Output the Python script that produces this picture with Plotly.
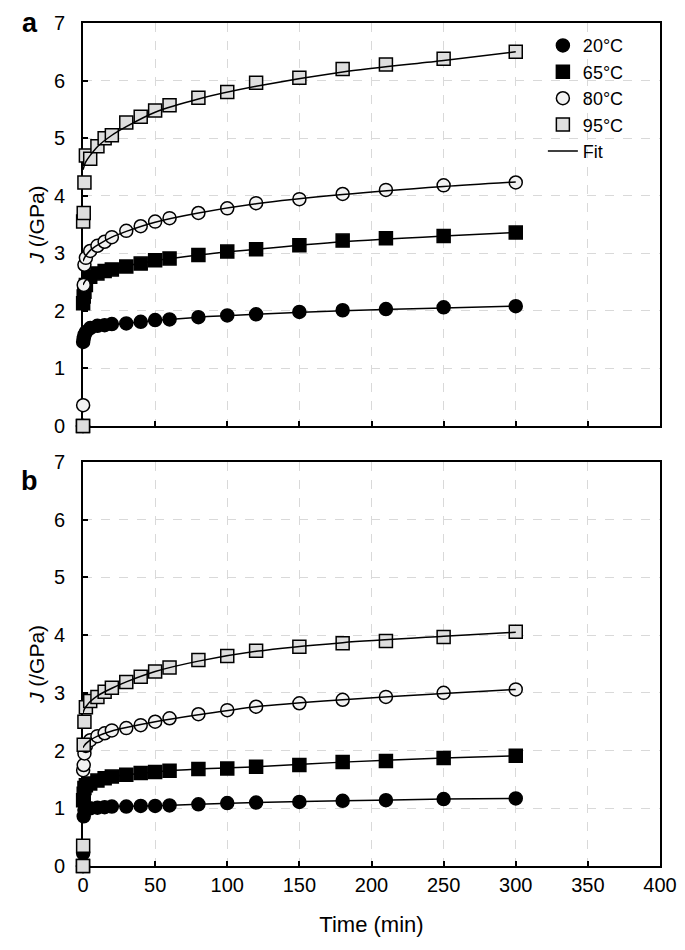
import plotly.graph_objects as go

# Time points (min)
time = [0, 0.1, 0.5, 1, 2, 5, 10, 15, 20, 30, 40, 50, 60, 80, 100, 120, 150, 180, 210, 250, 300]

# Panel a: measured compliance J (/GPa)
a_20 = [0, 1.46, 1.52, 1.58, 1.63, 1.70, 1.74, 1.75, 1.77, 1.78, 1.81, 1.84, 1.85, 1.89, 1.92, 1.94, 1.98, 2.01, 2.03, 2.06, 2.08]
a_65 = [0, 2.13, 2.25, 2.33, 2.45, 2.59, 2.65, 2.69, 2.72, 2.77, 2.82, 2.88, 2.91, 2.97, 3.03, 3.07, 3.14, 3.22, 3.26, 3.30, 3.36]
a_80 = [0, 0.36, 2.45, 2.80, 2.92, 3.04, 3.13, 3.20, 3.28, 3.39, 3.47, 3.55, 3.61, 3.70, 3.78, 3.87, 3.94, 4.03, 4.10, 4.18, 4.23]
a_95 = [0, 3.55, 3.70, 4.23, 4.70, 4.64, 4.86, 5.00, 5.05, 5.27, 5.37, 5.48, 5.57, 5.70, 5.80, 5.96, 6.05, 6.20, 6.28, 6.38, 6.50]

# Panel b
b_20 = [0, 0.22, 0.86, 0.97, 1.00, 1.00, 1.01, 1.02, 1.03, 1.03, 1.04, 1.04, 1.05, 1.07, 1.09, 1.10, 1.11, 1.13, 1.14, 1.16, 1.17]
b_65 = [0, 1.14, 1.25, 1.35, 1.40, 1.43, 1.48, 1.52, 1.55, 1.58, 1.61, 1.63, 1.65, 1.68, 1.69, 1.72, 1.75, 1.80, 1.82, 1.87, 1.91]
b_80 = [0, 1.66, 1.75, 1.95, 2.08, 2.18, 2.25, 2.30, 2.35, 2.39, 2.44, 2.50, 2.56, 2.63, 2.70, 2.76, 2.82, 2.88, 2.93, 3.00, 3.06]
b_95 = [0, 0.35, 2.10, 2.50, 2.75, 2.86, 2.93, 3.02, 3.09, 3.19, 3.28, 3.37, 3.44, 3.57, 3.64, 3.73, 3.80, 3.86, 3.90, 3.97, 4.06]

# Fit curves
fit_time = [0, 1, 2, 5, 10, 20, 30, 50, 80, 120, 180, 250, 300]
fa_20 = [1.55, 1.60, 1.63, 1.69, 1.72, 1.76, 1.78, 1.83, 1.89, 1.94, 2.00, 2.05, 2.08]
fa_65 = [2.45, 2.50, 2.53, 2.58, 2.65, 2.72, 2.78, 2.87, 2.97, 3.07, 3.20, 3.30, 3.36]
fa_80 = [2.86, 2.92, 2.96, 3.05, 3.14, 3.28, 3.38, 3.54, 3.70, 3.86, 4.02, 4.16, 4.24]
fa_95 = [4.45, 4.53, 4.59, 4.70, 4.85, 5.05, 5.20, 5.45, 5.68, 5.90, 6.15, 6.35, 6.50]
fb_20 = [0.95, 0.97, 0.98, 1.00, 1.01, 1.03, 1.035, 1.045, 1.07, 1.10, 1.13, 1.16, 1.17]
fb_65 = [1.35, 1.38, 1.40, 1.44, 1.49, 1.55, 1.58, 1.63, 1.68, 1.72, 1.80, 1.87, 1.91]
fb_80 = [2.05, 2.09, 2.12, 2.18, 2.25, 2.34, 2.40, 2.50, 2.62, 2.76, 2.88, 2.99, 3.06]
fb_95 = [2.65, 2.72, 2.76, 2.85, 2.95, 3.08, 3.19, 3.37, 3.55, 3.72, 3.87, 3.98, 4.05]

labels = ['20°C', '65°C', '80°C', '95°C']
symbols = ['circle', 'square', 'circle', 'square']
fills = ['black', 'black', '#f2f2f2', '#dedede']

FONT = 'Liberation Sans, Arial, sans-serif'

fig = go.Figure()

panels = [
    ('x', 'y', [a_20, a_65, a_80, a_95], [fa_20, fa_65, fa_80, fa_95], True),
    ('x2', 'y2', [b_20, b_65, b_80, b_95], [fb_20, fb_65, fb_80, fb_95], False),
]

for xa, ya, data, fits, show in panels:
    for lab, sym, col, vals in zip(labels, symbols, fills, data):
        fig.add_trace(go.Scatter(
            x=time, y=vals, mode='markers', name=lab,
            marker=dict(symbol=sym, size=13, color=col, line=dict(color='black', width=1.5)),
            xaxis=xa, yaxis=ya, showlegend=show, cliponaxis=False
        ))
    for i, fv in enumerate(fits):
        fig.add_trace(go.Scatter(
            x=fit_time, y=fv, mode='lines', name='Fit',
            line=dict(color='black', width=1.5, shape='spline', smoothing=0.8),
            xaxis=xa, yaxis=ya, showlegend=(show and i == 0), cliponaxis=False
        ))

axis_common = dict(
    showline=True, linecolor='black', linewidth=2, mirror=True,
    ticks='inside', ticklen=5, tickwidth=1.5, tickcolor='black',
    showgrid=True, gridcolor='#d9d9d9', griddash='dash', gridwidth=1.2,
    zeroline=False, layer='below traces', automargin=False,
    tickfont=dict(family=FONT, size=20, color='black'),
)

# page body has an 8px margin, so the margins below are shifted to compensate
fig.update_layout(
    width=685, height=950,
    margin=dict(l=75, r=33, t=15, b=92),
    plot_bgcolor='white', paper_bgcolor='white',
    font=dict(family=FONT, color='black'),
    xaxis=dict(axis_common, range=[0, 400], dtick=50, showticklabels=False, anchor='y'),
    yaxis=dict(axis_common, range=[0, 7], dtick=1, domain=[0.522, 1], anchor='x',
               ticklabelstandoff=12,
               title=dict(text='<i>J</i> (/GPa)', font=dict(size=21), standoff=4)),
    xaxis2=dict(axis_common, range=[0, 400], dtick=50, anchor='y2',
                title=dict(text='Time (min)', font=dict(size=22), standoff=22)),
    yaxis2=dict(axis_common, range=[0, 7], dtick=1, domain=[0, 0.4792], anchor='x2',
                ticklabelstandoff=12,
                title=dict(text='<i>J</i> (/GPa)', font=dict(size=21), standoff=4)),
    legend=dict(x=0.797, y=0.995, xanchor='left', yanchor='top', bgcolor='rgba(0,0,0,0)',
                font=dict(size=18, family=FONT), tracegroupgap=0, itemwidth=30),
    showlegend=True,
    annotations=[
        dict(text='<b>a</b>', x=-0.092, y=1.0, xref='paper', yref='paper',
             showarrow=False, font=dict(size=27, family=FONT), xanchor='center', yanchor='middle'),
        dict(text='<b>b</b>', x=-0.092, y=0.457, xref='paper', yref='paper',
             showarrow=False, font=dict(size=27, family=FONT), xanchor='center', yanchor='middle'),
    ],
)

fig.write_html("out.html")
